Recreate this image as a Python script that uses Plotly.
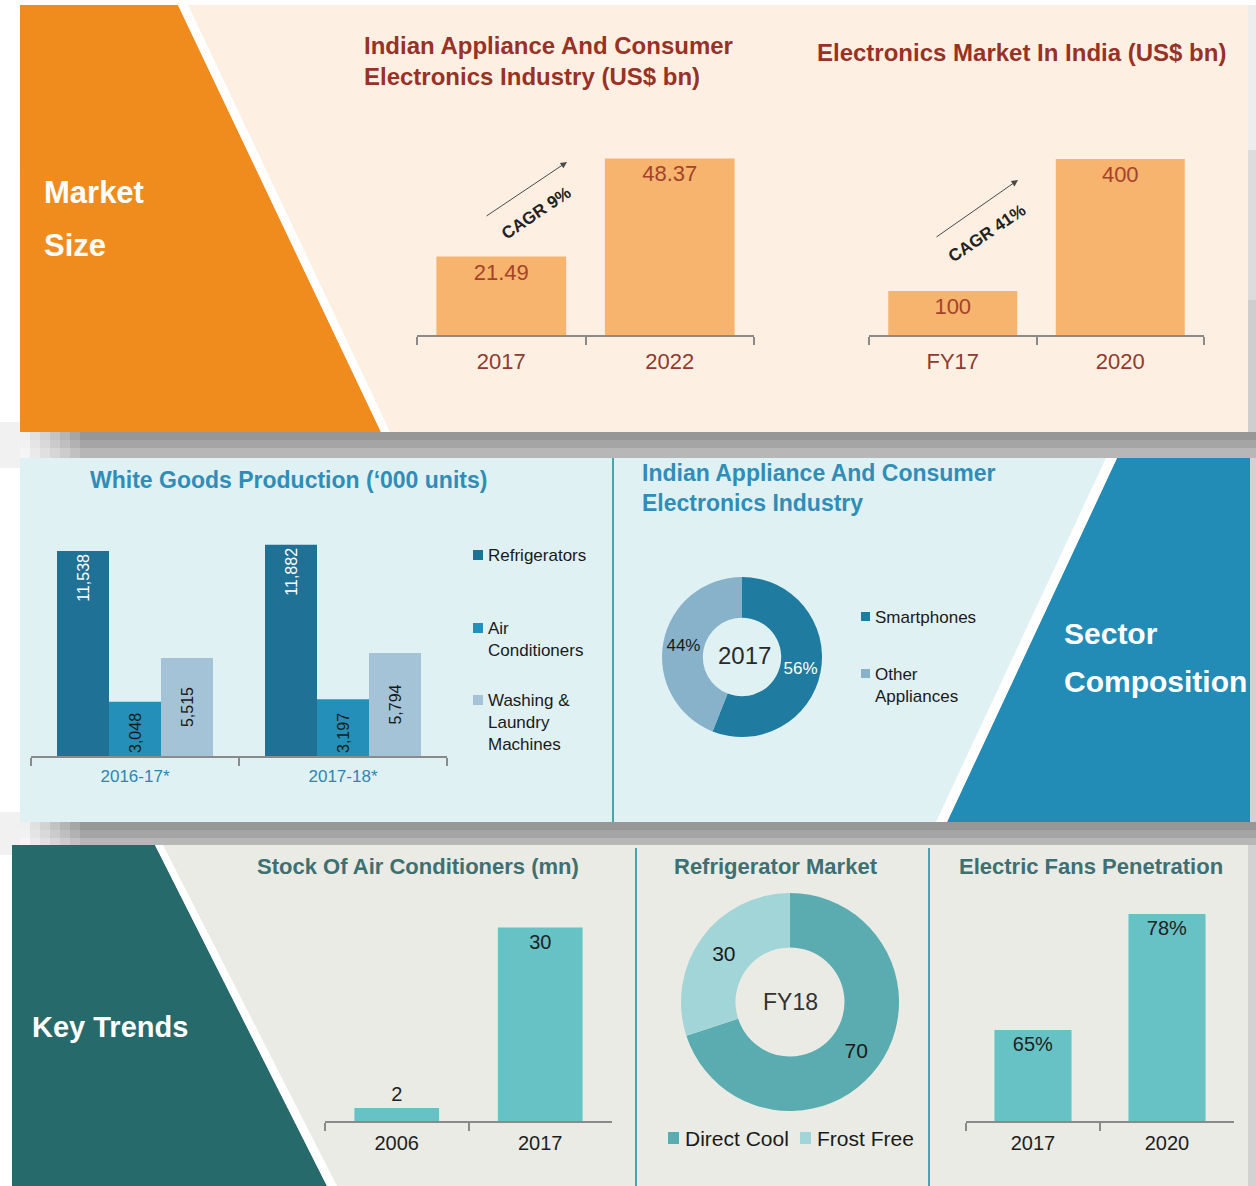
import plotly.graph_objects as go

W, H = 1256, 1186

# ---------------- data ----------------
app_years = ["2017", "2022"]
app_values = [21.49, 48.37]
elec_years = ["FY17", "2020"]
elec_values = [100, 400]
wg_years = ["2016-17*", "2017-18*"]
wg_refrigerators = [11538, 11882]
wg_ac = [3048, 3197]
wg_washing = [5515, 5794]
wg_series = ["Refrigerators", "Air<br>Conditioners", "Washing &<br>Laundry<br>Machines"]
sector_labels = ["Smartphones", "Other<br>Appliances"]
sector_values = [56, 44]
sector_year = "2017"
ac_years = ["2006", "2017"]
ac_stock = [2, 30]
fridge_labels = ["Direct Cool", "Frost Free"]
fridge_values = [70, 30]
fridge_year = "FY18"
fan_years = ["2017", "2020"]
fan_values = [65, 78]
cagr_labels = ["CAGR 9%", "CAGR 41%"]

FONT = "Liberation Sans, Arial, sans-serif"

# colours
ORANGE = "#F08C1E"
CREAM = "#FDF0E3"
PEACH = "#F6B46E"
MAROON = "#983226"
BROWN = "#A5432A"
LBLUE_BG = "#DFF1F3"
BLUE = "#238CB6"
C_REF = "#1F7196"
C_AC = "#2490B9"
C_WASH = "#A5C3D7"
C_SMART = "#1F7B9F"
C_OTHER = "#88B2CA"
MID_TITLE = "#2F8DB8"
GREY_BG = "#E9EBE4"
TEAL_DARK = "#276A6C"
TEAL_BAR = "#66C2C4"
C_DIRECT = "#5AACB0"
C_FROST = "#A1D5D8"
BOT_TITLE = "#3E6F72"
DIV = "#45A6AD"
AXIS = "#8A8A8A"


def X(p):
    return p / W


def Y(p):
    return 1 - p / H


shapes = []


def rect(x0, y0, x1, y1, color, opacity=1.0, layer="below"):
    shapes.append(dict(type="rect", xref="paper", yref="paper",
                       x0=X(x0), x1=X(x1), y0=Y(y1), y1=Y(y0),
                       fillcolor=color, opacity=opacity,
                       line=dict(width=0), layer=layer))


def poly(pts, color, layer="below"):
    path = "M " + " L ".join(f"{X(a):.5f},{Y(b):.5f}" for a, b in pts) + " Z"
    shapes.append(dict(type="path", xref="paper", yref="paper", path=path,
                       fillcolor=color, line=dict(width=0), layer=layer))


def vline(x, y0, y1, color, width):
    shapes.append(dict(type="line", xref="paper", yref="paper",
                       x0=X(x), x1=X(x), y0=Y(y0), y1=Y(y1),
                       line=dict(color=color, width=width), layer="below"))


def shadow_band(ya, yb):
    rows = [(ya, ya + 8, "#979797"), (ya + 8, ya + 16, "#A5A5A5"), (ya + 16, yb, "#B7B7B7")]
    rect(0, ya - 10, 20, yb + 10, "#F1F1F1")
    for r0, r1, c in rows:
        rect(80, r0, W, r1, c)
        for i in range(6):
            rect(20 + 10 * i, r0, 30 + 10 * i, r1, c, opacity=(i + 1) / 7)


# ---------------- backgrounds ----------------
# top panel
rect(20, 5, 1248, 432, CREAM)
poly([(20, 5), (178, 5), (381, 432), (20, 432)], ORANGE)
poly([(178, 5), (188, 5), (390, 432), (381, 432)], "white")
rect(1248, 5, W, 150, "#EDEDED")
rect(1248, 150, W, 300, "#DCDCDC")
rect(1248, 300, W, 432, "#CECECE")
shadow_band(432, 458)

# middle panel
rect(20, 458, 1250, 822, LBLUE_BG)
poly([(1117, 458), (1250, 458), (1250, 822), (947, 822)], BLUE)
poly([(1106, 458), (1117, 458), (947, 822), (936, 822)], "white")
vline(613, 458, 822, DIV, 2)
rect(1250, 458, W, 822, "#D2D2D2")
shadow_band(822, 845)

# bottom panel
rect(12, 845, 1248, H, GREY_BG)
poly([(12, 845), (155, 845), (327, H), (12, H)], TEAL_DARK)
poly([(155, 845), (163, 845), (337, H), (327, H)], "white")
vline(636, 848, H, DIV, 2)
vline(929, 848, H, DIV, 2)
rect(1248, 845, W, H, "#D2D2D2")

# ---------------- traces ----------------
traces = []

# chart 1: Indian appliance & CE industry
traces.append(go.Bar(x=app_years, y=app_values, xaxis="x", yaxis="y", width=0.77,
                     marker=dict(color=PEACH, line=dict(width=0)),
                     texttemplate="%{y}", textposition="inside", insidetextanchor="end",
                     textfont=dict(family=FONT, size=22, color=BROWN), showlegend=False))
# chart 2: Electronics market
traces.append(go.Bar(x=elec_years, y=elec_values, xaxis="x2", yaxis="y2", width=0.77,
                     marker=dict(color=PEACH, line=dict(width=0)),
                     texttemplate="%{y}", textposition="inside", insidetextanchor="end",
                     textfont=dict(family=FONT, size=22, color=BROWN), showlegend=False))

# chart 3: white goods production (grouped)
wg_data = [wg_refrigerators, wg_ac, wg_washing]
wg_colors = [C_REF, C_AC, C_WASH]
wg_offsets = [-0.375, -0.125, 0.125]
wg_anchor = ["end", "start", "middle"]
wg_tcol = ["white", "#1A1A1A", "#1A1A1A"]
for name, vals, col, off, anc, tc in zip(wg_series, wg_data, wg_colors, wg_offsets, wg_anchor, wg_tcol):
    traces.append(go.Bar(x=wg_years, y=vals, name=name.replace("<br>", " "), xaxis="x3", yaxis="y3",
                         width=0.25, offset=off,
                         marker=dict(color=col, line=dict(width=0)),
                         texttemplate="%{y:,}", textposition="inside", insidetextanchor=anc,
                         textangle=-90,
                         textfont=dict(family=FONT, size=16, color=tc), showlegend=False))

# chart 4: stock of air conditioners
traces.append(go.Bar(x=ac_years, y=ac_stock, xaxis="x4", yaxis="y4", width=0.59,
                     marker=dict(color=TEAL_BAR, line=dict(width=0)),
                     texttemplate="%{y}", textposition=["outside", "inside"], insidetextanchor="end",
                     textfont=dict(family=FONT, size=20, color="#222222"), cliponaxis=False,
                     showlegend=False))

# chart 5: electric fans penetration
traces.append(go.Bar(x=fan_years, y=fan_values, xaxis="x5", yaxis="y5", width=0.575,
                     marker=dict(color=TEAL_BAR, line=dict(width=0)),
                     texttemplate="%{y}%", textposition="inside", insidetextanchor="end",
                     textfont=dict(family=FONT, size=20, color="#222222"), showlegend=False))

# donut: sector composition
traces.append(go.Pie(labels=[s.replace("<br>", " ") for s in sector_labels], values=sector_values,
                     hole=0.49, sort=False, direction="clockwise", rotation=0,
                     domain=dict(x=[X(662), X(822)], y=[Y(737), Y(577)]),
                     marker=dict(colors=[C_SMART, C_OTHER], line=dict(width=0)),
                     texttemplate="%{value}%", textposition="inside",
                     insidetextorientation="horizontal",
                     insidetextfont=dict(family=FONT, size=17, color=["white", "#1A1A1A"]),
                     showlegend=False))

# donut: refrigerator market
traces.append(go.Pie(labels=fridge_labels, values=fridge_values,
                     hole=0.5, sort=False, direction="clockwise", rotation=0,
                     domain=dict(x=[X(681), X(899)], y=[Y(1111), Y(893)]),
                     marker=dict(colors=[C_DIRECT, C_FROST], line=dict(width=0)),
                     texttemplate="%{value}", textposition="inside",
                     insidetextorientation="horizontal",
                     insidetextfont=dict(family=FONT, size=21, color="#1A1A1A"),
                     showlegend=False))

fig = go.Figure(data=traces)


# ---------------- axes ----------------
def xaxis(x0, x1, yanchor, color, size, standoff):
    return dict(domain=[X(x0), X(x1)], anchor=yanchor, type="category",
                range=[-0.5, 1.5], tickson="boundaries", ticks="outside", ticklen=8,
                tickwidth=1.5, tickcolor=AXIS, showline=True, linecolor=AXIS, linewidth=2,
                showgrid=False, zeroline=False, ticklabelstandoff=standoff,
                tickfont=dict(family=FONT, size=size, color=color), fixedrange=True)


def yaxis(top, base, rng, xanchor):
    return dict(domain=[Y(base), Y(top)], anchor=xanchor, range=rng, visible=False,
                showgrid=False, zeroline=False, fixedrange=True)


fig.update_layout(
    xaxis=xaxis(417, 754, "y", "#903A30", 22, 6),
    yaxis=yaxis(150, 335, [0, 185 / 3.65], "x"),
    xaxis2=xaxis(869, 1204, "y2", "#903A30", 22, 6),
    yaxis2=yaxis(150, 335, [0, 185 / 0.44], "x2"),
    xaxis3=xaxis(31, 447, "y3", "#2D86B1", 17, 4),
    yaxis3=yaxis(530, 756, [0, 226 / 0.01777], "x3"),
    xaxis4=xaxis(325, 612, "y4", "#1E1E1E", 20, 3),
    yaxis4=yaxis(900, 1121, [0, 221 / 6.45], "x4"),
    xaxis5=xaxis(966, 1234, "y5", "#1E1E1E", 20, 3),
    yaxis5=yaxis(900, 1121, [54.8, 54.8 + 221 / 8.92], "x5"),
)

# ---------------- annotations ----------------
ann = []


def text(x, y, s, size, color, bold=False, xanchor="left", yanchor="middle", angle=0, align="left"):
    ann.append(dict(xref="paper", yref="paper", x=X(x), y=Y(y), text=f"<b>{s}</b>" if bold else s,
                    showarrow=False, xanchor=xanchor, yanchor=yanchor, textangle=angle, align=align,
                    font=dict(family=FONT, size=size, color=color)))


# panel labels
text(42, 192, "Market", 31, "white", bold=True)
text(42, 245, "Size", 31, "white", bold=True)
text(1062, 633, "Sector", 30, "white", bold=True)
text(1062, 681, "Composition", 30, "white", bold=True)
text(30, 1027, "Key Trends", 29, "white", bold=True)

# titles
text(362, 61, "Indian Appliance And Consumer<br>Electronics Industry (US$ bn)", 24, MAROON, bold=True)
text(815, 53, "Electronics Market In India (US$ bn)", 24, MAROON, bold=True)
text(88, 480, "White Goods Production (‘000 units)", 23, MID_TITLE, bold=True)
text(640, 488, "Indian Appliance And Consumer<br>Electronics Industry", 23, MID_TITLE, bold=True)
text(418, 866, "Stock Of Air Conditioners (mn)", 22, BOT_TITLE, bold=True, xanchor="center")
text(776, 866, "Refrigerator Market", 22, BOT_TITLE, bold=True, xanchor="center")
text(1091, 866, "Electric Fans Penetration", 22, BOT_TITLE, bold=True, xanchor="center")

# CAGR arrows + labels
for (hx, hy, tx, ty), (cx, cy), lab in zip([(567, 162, 485, 217), (1018, 180, 935, 238)],
                                           [(536, 214), (987, 234)], cagr_labels):
    ann.append(dict(xref="paper", yref="paper", x=X(hx), y=Y(hy), ax=tx - hx, ay=ty - hy,
                    text="", showarrow=True, arrowhead=2, arrowsize=1.3, arrowwidth=1,
                    arrowcolor="#4A4A4A"))
    text(cx, cy, lab, 17, "#222222", bold=True, xanchor="center", angle=-34)

# donut centres
text(744, 655, sector_year, 24, "#2A2A2A", xanchor="center")
text(790, 1002, fridge_year, 23, "#333333", xanchor="center")

# legends (manual)
for name, col, y in zip(wg_series, wg_colors, [555, 628, 700]):
    rect(473, y - 5, 483, y + 5, col, layer="above")
    text(486, y - 11, name, 17, "#1A1A1A", yanchor="top")
for name, col, y in zip(sector_labels, [C_SMART, C_OTHER], [617, 674]):
    rect(861, y - 5, 870, y + 4, col, layer="above")
    text(873, y - 11, name, 17, "#1A1A1A", yanchor="top")
for name, col, x in zip(fridge_labels, [C_DIRECT, C_FROST], [668, 800]):
    rect(x, 1132, x + 11, 1144, col, layer="above")
    text(x + 15, 1138, name, 21, "#1A1A1A")

fig.update_layout(
    width=W, height=H, margin=dict(l=0, r=0, t=0, b=0),
    paper_bgcolor="white", plot_bgcolor="rgba(0,0,0,0)",
    showlegend=False, barmode="overlay",
    shapes=shapes, annotations=ann,
    font=dict(family=FONT),
)

fig.write_html("out.html", post_script="document.body.style.margin='0';",
               config={"displayModeBar": False})
